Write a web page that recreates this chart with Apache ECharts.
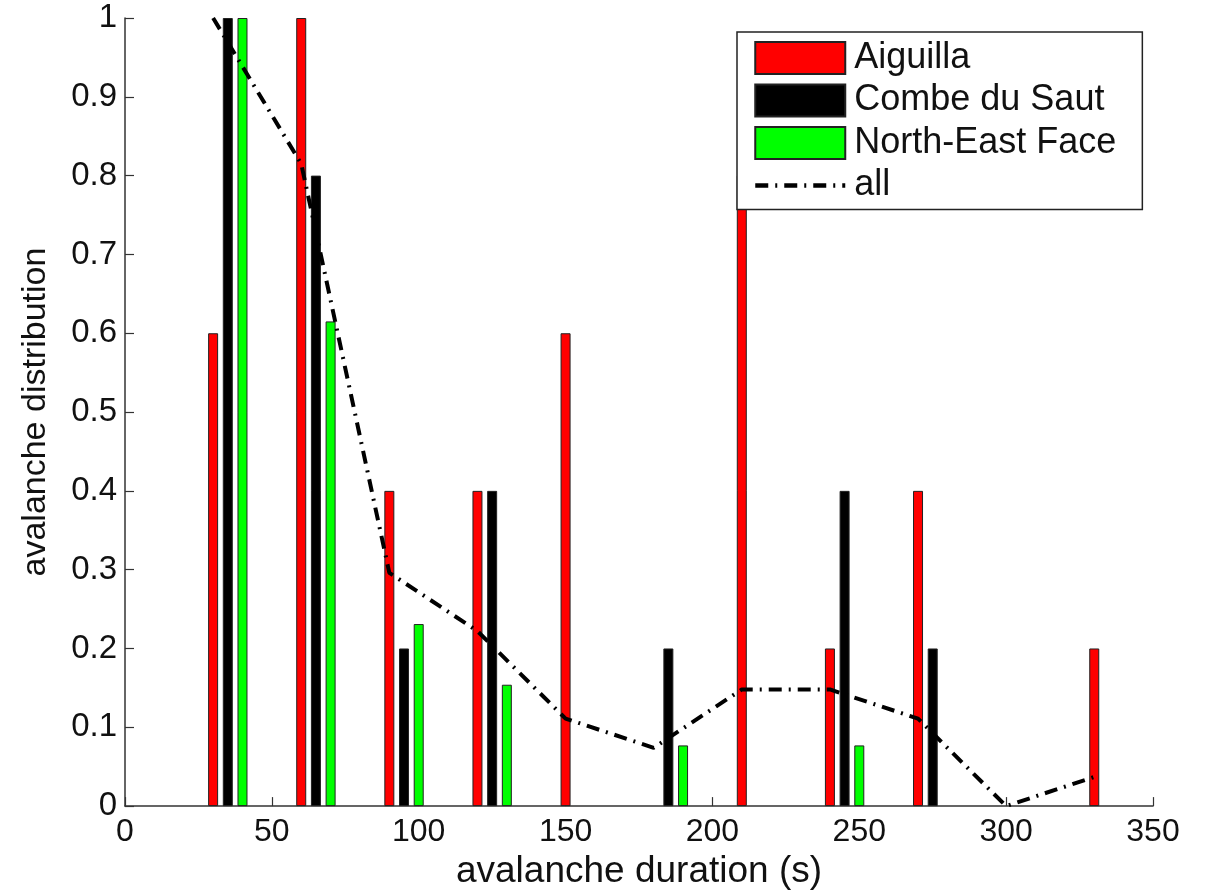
<!DOCTYPE html>
<html>
<head>
<meta charset="utf-8">
<script src="https://cdn.jsdelivr.net/npm/echarts@6/dist/echarts.min.js"></script>
<style>
  html, body { margin: 0; padding: 0; background: #fff; }
  #chart { width: 1205px; height: 895px; }
</style>
</head>
<body>
<div id="chart"></div>
<script>
// Avalanche duration distribution per site, plus the pooled curve ("all").
const aiguillaX = [30, 60, 90, 120, 150, 210, 240, 270, 330];
const aiguillaY = [0.6, 1.0, 0.4, 0.4, 0.6, 0.8, 0.2, 0.4, 0.2];

const combeX = [35, 65, 95, 125, 185, 245, 275];
const combeY = [1.0, 0.8, 0.2, 0.4, 0.2, 0.4, 0.2];

const northEastX = [40, 70, 100, 130, 190, 250];
const northEastY = [1.0, 0.615, 0.231, 0.154, 0.077, 0.077];

const allX = [30, 60, 90, 120, 150, 180, 210, 240, 270, 300, 330];
const allY = [1.0, 0.815, 0.296, 0.222, 0.111, 0.074, 0.148, 0.148, 0.111, 0, 0.037];

const xTicks = [0, 50, 100, 150, 200, 250, 300, 350];
const yTicks = [0, 0.1, 0.2, 0.3, 0.4, 0.5, 0.6, 0.7, 0.8, 0.9, 1];

const pairs = (xs, ys) => xs.map((x, i) => [x, ys[i]]);

const FONT = "'Liberation Sans', Arial, Helvetica, sans-serif";
const AXIS_COLOR = '#333';
const EDGE = '#222';
const DASH_DOT = [13, 7, 2, 7];

const barSeries = (name, color, data) => ({
  type: 'bar',
  name: name,
  color: color,
  barWidth: 10,
  barGap: '-100%',
  itemStyle: { color: color, borderColor: EDGE, borderWidth: 1 },
  data: data
});

const chart = echarts.init(document.getElementById('chart'), null, { renderer: 'canvas' });

chart.setOption({
  backgroundColor: '#fff',
  animation: false,
  textStyle: { fontFamily: FONT },
  grid: { left: 125, right: 52, top: 18, bottom: 87, containLabel: false },
  xAxis: {
    type: 'value',
    min: xTicks[0],
    max: xTicks[xTicks.length - 1],
    interval: xTicks[1] - xTicks[0],
    name: 'avalanche duration (s)',
    nameLocation: 'middle',
    nameGap: 44,
    nameTextStyle: { fontSize: 37, color: '#111', fontFamily: FONT },
    axisLine: { show: true, lineStyle: { color: AXIS_COLOR, width: 1.5 } },
    axisTick: { show: true, inside: true, length: 9, lineStyle: { color: AXIS_COLOR, width: 1.2 } },
    axisLabel: { fontSize: 32, color: '#111', margin: 10, fontFamily: FONT },
    splitLine: { show: false }
  },
  yAxis: {
    type: 'value',
    min: yTicks[0],
    max: yTicks[yTicks.length - 1],
    interval: 0.1,
    name: 'avalanche distribution',
    nameLocation: 'middle',
    nameGap: 72,
    nameTextStyle: { fontSize: 34, color: '#111', fontFamily: FONT },
    axisLine: { show: true, lineStyle: { color: AXIS_COLOR, width: 1.5 } },
    axisTick: { show: true, inside: true, length: 9, lineStyle: { color: AXIS_COLOR, width: 1.2 } },
    axisLabel: { fontSize: 33, color: '#111', margin: 8, fontFamily: FONT },
    splitLine: { show: false }
  },
  legend: {
    orient: 'vertical',
    left: 737,
    top: 32,
    backgroundColor: '#fff',
    borderColor: EDGE,
    borderWidth: 1.5,
    borderRadius: 0,
    padding: [8, 26, 6, 16],
    itemWidth: 90,
    itemHeight: 32,
    itemGap: 6.5,
    textStyle: { fontSize: 36, color: '#111', fontFamily: FONT, padding: [0, 0, 0, 4], lineHeight: 32 },
    data: [
      { name: 'Aiguilla', icon: 'rect' },
      { name: 'Combe du Saut', icon: 'rect' },
      { name: 'North-East Face', icon: 'rect' },
      {
        name: 'all',
        itemStyle: { color: 'rgba(0,0,0,0)', borderWidth: 0, opacity: 0 },
        lineStyle: { color: '#000', width: 4.5, type: DASH_DOT }
      }
    ]
  },
  series: [
    barSeries('Aiguilla', '#ff0000', pairs(aiguillaX, aiguillaY)),
    barSeries('Combe du Saut', '#000000', pairs(combeX, combeY)),
    barSeries('North-East Face', '#00ff00', pairs(northEastX, northEastY)),
    {
      name: 'all',
      type: 'line',
      color: '#000',
      symbol: 'none',
      showSymbol: false,
      z: 5,
      lineStyle: { color: '#000', width: 4, type: DASH_DOT },
      data: pairs(allX, allY)
    }
  ]
});
</script>
</body>
</html>
